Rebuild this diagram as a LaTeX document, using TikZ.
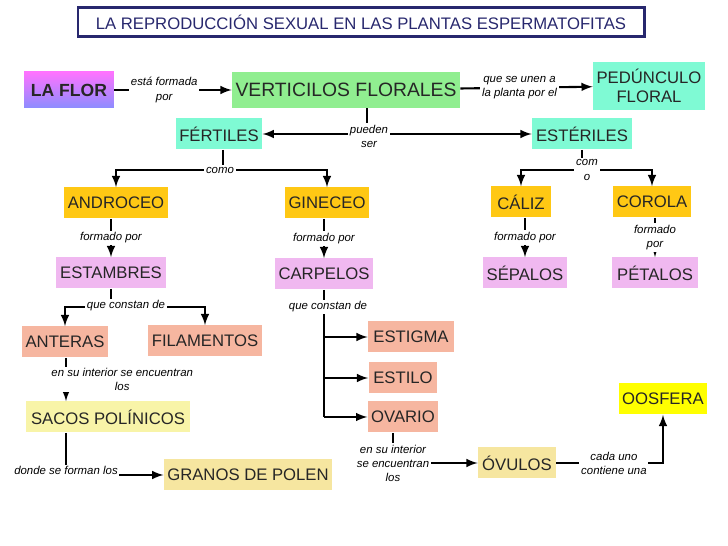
\documentclass[tikz,border=0pt]{standalone}
\usepackage{fontspec}
\setmainfont{Liberation Sans}
\usepackage{xcolor}
\usetikzlibrary{arrows, positioning, shadings}
\definecolor{florgreen}{RGB}{144, 238, 144}
\definecolor{floraqua}{RGB}{127, 250, 212}
\definecolor{florgold}{RGB}{255, 200, 20}
\definecolor{florlilac}{RGB}{240, 184, 240}
\definecolor{florsalmon}{RGB}{246, 182, 160}
\definecolor{florcream}{RGB}{248, 244, 168}
\definecolor{florsand}{RGB}{246, 230, 160}
\definecolor{floryellow}{RGB}{255, 255, 0}
\definecolor{flornavy}{RGB}{40, 40, 110}

\begin{document}
\begin{tikzpicture}[
    x=0.02cm, y=-0.02cm,
    box/.style={
        rectangle,
        inner sep=2pt,
        minimum height=0.62cm,
        font=\fontsize{9.5}{11}\selectfont,
        text=black!85
    },
    lbl/.style={
        fill=white,
        inner sep=1pt,
        align=center,
        font=\itshape\fontsize{6.5}{8}\selectfont
    },
    link/.style={
        black,
        line width=1.2pt,
        -latex
    },
    plain/.style={
        black,
        line width=1.2pt
    }
]

% Background and title
\fill[white] (0,0) rectangle (728,546);
\node[draw=flornavy, line width=1.2pt, minimum width=11.34cm, minimum height=0.58cm,
      font=\fontsize{9.5}{11}\selectfont, text=flornavy] (title) at (361,22)
      {LA REPRODUCCIÓN SEXUAL EN LAS PLANTAS ESPERMATOFITAS};

% First row
\node[box, minimum width=1.8cm, minimum height=0.72cm, top color=magenta!55, bottom color=blue!45,
      font=\bfseries\fontsize{10}{12}\selectfont] (flor) at (69,90) {LA FLOR};
\node[box, fill=florgreen, minimum width=4.36cm, minimum height=0.72cm,
      font=\fontsize{11}{13}\selectfont] (verticilos) at (346,90) {VERTICILOS FLORALES};
\node[box, fill=floraqua, minimum width=2.22cm, minimum height=0.96cm, align=center] (peduncul) at (649,86) {PEDÚNCULO\\FLORAL};

% Fertile and sterile
\node[box, fill=floraqua, minimum width=1.72cm] (fertiles) at (219,134) {FÉRTILES};
\node[box, fill=floraqua, minimum width=2cm] (esteriles) at (582,134) {ESTÉRILES};

\node[box, fill=florgold, minimum width=2.08cm] (androceo) at (116,203) {ANDROCEO};
\node[box, fill=florgold, minimum width=1.7cm] (gineceo) at (327,203) {GINECEO};
\node[box, fill=florgold, minimum width=1.2cm] (caliz) at (521,202) {CÁLIZ};
\node[box, fill=florgold, minimum width=1.58cm] (corola) at (652,202) {COROLA};

\node[box, fill=florlilac, minimum width=2.2cm] (estambres) at (111,273) {ESTAMBRES};
\node[box, fill=florlilac, minimum width=1.94cm] (carpelos) at (324,274) {CARPELOS};
\node[box, fill=florlilac, minimum width=1.64cm] (sepalos) at (525,273) {SÉPALOS};
\node[box, fill=florlilac, minimum width=1.74cm] (petalos) at (655,273) {PÉTALOS};

% Lower parts
\node[box, fill=florsalmon, minimum width=1.74cm] (anteras) at (65,342) {ANTERAS};
\node[box, fill=florsalmon, minimum width=2.28cm] (filamentos) at (205,341) {FILAMENTOS};
\node[box, fill=florsalmon, minimum width=1.72cm] (estigma) at (411,337) {ESTIGMA};
\node[box, fill=florsalmon, minimum width=1.38cm] (estilo) at (403,378) {ESTILO};
\node[box, fill=florsalmon, minimum width=1.38cm] (ovario) at (403,417) {OVARIO};

\node[box, fill=florcream, minimum width=3.28cm] (sacos) at (108,417) {SACOS POLÍNICOS};
\node[box, fill=florsand, minimum width=3.3cm] (granos) at (248,475) {GRANOS DE POLEN};
\node[box, fill=florsand, minimum width=1.56cm] (ovulos) at (517,463) {ÓVULOS};
\node[box, fill=floryellow, minimum width=1.76cm] (oosfera) at (663,399) {OOSFERA};

% Connectors
\draw[link] (flor) -- node[lbl, xshift=-5pt] {está formada\\por} (verticilos);
\draw[link] (verticilos) -- node[lbl, xshift=-4pt] {que se unen a\\la planta por el} (peduncul);

\coordinate (split) at (367,134);
\draw[plain] (verticilos.south -| split) -- (split);
\draw[link] (split) -- (fertiles);
\draw[link] (split) -- (esteriles);
\node[lbl] at (369,136) {pueden\\ser};

\coordinate (fsplit) at (223,170);
\draw[plain] (fertiles.south -| fsplit) -- (fsplit);
\draw[link] (fsplit) -| (androceo);
\draw[link] (fsplit) -| (gineceo);
\node[lbl] at (220,170) {como};

\coordinate (esplit) at (582,170);
\draw[plain] (esteriles) -- (esplit);
\draw[link] (esplit) -| (caliz);
\draw[link] (esplit) -| (corola);
\node[lbl] at (587,170) {com\\o};

\draw[link] (androceo.south -| estambres) -- node[lbl] {formado por} (estambres);
\draw[link] (gineceo.south -| carpelos) -- node[lbl] {formado por} (carpelos);
\draw[link] (caliz.south -| sepalos) -- node[lbl] {formado por} (sepalos);
\draw[link] (corola.south -| petalos) -- node[lbl] {formado\\por} (petalos);

\coordinate (asplit) at (111,307);
\draw[plain] (estambres) -- (asplit);
\draw[link] (asplit) -| (anteras);
\draw[link] (asplit) -| (filamentos.north);
\node[lbl] at (126,306) {que constan de};

\coordinate (cdown) at (324,417);
\draw[plain] (carpelos) -- (cdown);
\draw[link] (estigma -| cdown) -- (estigma);
\draw[link] (estilo -| cdown) -- (estilo);
\draw[link] (cdown) -- (ovario);
\node[lbl] at (328,307) {que constan de};

\coordinate (pline) at (66,0);
\draw[link] (anteras.south -| pline) -- node[lbl, xshift=32pt] {en su interior se encuentran\\los} (sacos.north -| pline);
\draw[link] (sacos.south -| pline) |- node[lbl, pos=0.45] {donde se forman los} (granos);

\coordinate (oline) at (393,0);
\draw[link] (ovario.south -| oline) |- node[lbl, pos=0.5] {en su interior\\se encuentran\\los} (ovulos);
\draw[link] (ovulos) -| node[lbl, pos=0.27] {cada uno\\contiene una} (oosfera);

\end{tikzpicture}
\end{document}
